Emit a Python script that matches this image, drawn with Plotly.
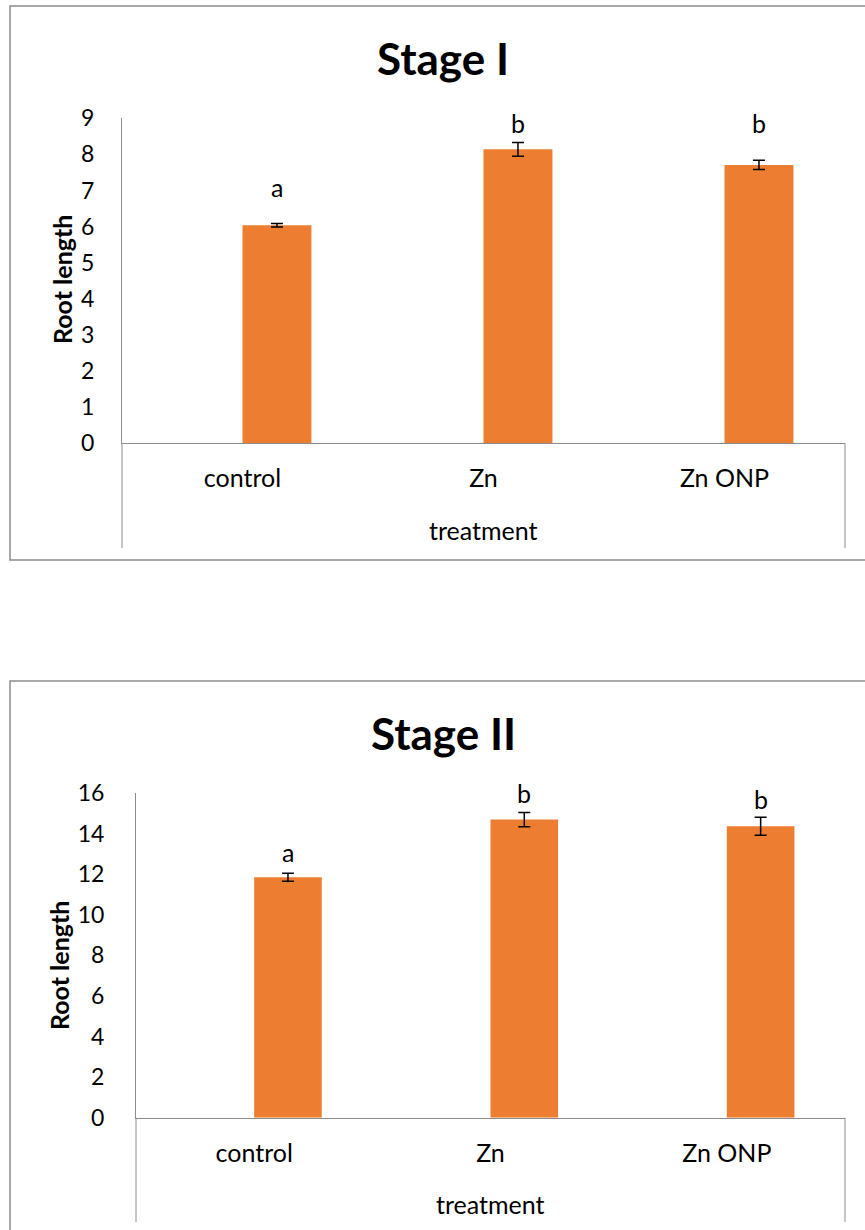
import plotly.graph_objects as go

# Treatments on the category axis
categories = ["control", "Zn", "Zn ONP"]

# Stage I root length (mean, standard error) and significance letters
stage1_mean = [6.04, 8.14, 7.71]
stage1_err = [0.05, 0.19, 0.13]
stage1_letters = ["a", "b", "b"]
stage1_letter_y = [7.11, 8.87, 8.87]
stage1_ticks = [0, 1, 2, 3, 4, 5, 6, 7, 8, 9]

# Stage II root length (mean, standard error) and significance letters
stage2_mean = [11.85, 14.69, 14.36]
stage2_err = [0.20, 0.35, 0.44]
stage2_letters = ["a", "b", "b"]
stage2_letter_y = [13.11, 16.0, 15.71]
stage2_ticks = [0, 2, 4, 6, 8, 10, 12, 14, 16]

W, H = 865, 1230
FONT = "Lato"
ORANGE = "#ED7D31"
GRAY = "#8C8C8C"
TXT = "#000000"
BAR_W = 0.286


def px_x(p):
    return p / W


def px_y(p):
    return 1 - p / H


fig = go.Figure()

panels = [
    dict(mean=stage1_mean, err=stage1_err, letters=stage1_letters, ly=stage1_letter_y,
         ticks=stage1_ticks, top=118.3, zero=443.3, left=122, right=845, bottom=548,
         title="Stage I", title_y=58, ytitle_x=62, ytitle_y=280, xtitle_y=530, frame=(6, 560),
         sfx="", standoff=22),
    dict(mean=stage2_mean, err=stage2_err, letters=stage2_letters, ly=stage2_letter_y,
         ticks=stage2_ticks, top=793, zero=1117.7, left=136, right=845, bottom=1222,
         title="Stage II", title_y=733, ytitle_x=59, ytitle_y=965, xtitle_y=1204, frame=(681, 1260),
         sfx="2", standoff=26),
]

shapes = []
annotations = []

for p in panels:
    xa = "x" + p["sfx"]
    ya = "y" + p["sfx"]
    fig.add_trace(go.Bar(
        x=categories, y=p["mean"], width=BAR_W, offset=0,
        marker=dict(color=ORANGE, line=dict(width=0)),
        error_y=dict(type="data", array=p["err"], color="#000000", thickness=1.5, width=6),
        xaxis=xa, yaxis=ya, showlegend=False,
    ))

    xkey = "xaxis" + p["sfx"]
    ykey = "yaxis" + p["sfx"]
    fig.update_layout(**{
        xkey: dict(
            domain=[px_x(p["left"]), px_x(p["right"])], anchor=ya,
            type="category", range=[-0.5, 2.5],
            showline=True, linecolor=GRAY, linewidth=1,
            showgrid=False, zeroline=False, ticks="",
            tickfont=dict(family=FONT, size=25, color=TXT),
            ticklabelstandoff=13, automargin=False, fixedrange=True,
        ),
        ykey: dict(
            domain=[px_y(p["zero"]), px_y(p["top"])], anchor=xa,
            range=[0, p["ticks"][-1]], tickvals=p["ticks"],
            showline=True, linecolor=GRAY, linewidth=1,
            showgrid=False, zeroline=False, ticks="",
            tickfont=dict(family=FONT, size=23, color=TXT),
            ticklabelstandoff=p["standoff"], automargin=False, fixedrange=True,
        ),
    })

    # chart frame
    shapes.append(dict(type="rect", xref="paper", yref="paper",
                       x0=px_x(10), x1=px_x(880), y0=px_y(p["frame"][1]), y1=px_y(p["frame"][0]),
                       line=dict(color=GRAY, width=1.5), fillcolor="rgba(0,0,0,0)", layer="below"))
    # category band dividers under the axis
    for xd in (0, 1):
        shapes.append(dict(type="line", xref=xa + " domain", yref="paper",
                           x0=xd, x1=xd, y0=px_y(p["zero"]), y1=px_y(p["bottom"]),
                           line=dict(color=GRAY, width=1)))

    annotations.append(dict(text="<b>" + p["title"] + "</b>", xref="paper", yref="paper",
                            x=px_x(443), y=px_y(p["title_y"]), showarrow=False,
                            xanchor="center", yanchor="middle",
                            font=dict(family=FONT, size=44, color=TXT)))
    annotations.append(dict(text="<b>Root length</b>", xref="paper", yref="paper",
                            x=px_x(p["ytitle_x"]), y=px_y(p["ytitle_y"]), showarrow=False,
                            textangle=-90, xanchor="center", yanchor="middle",
                            font=dict(family=FONT, size=25, color=TXT)))
    annotations.append(dict(text="treatment", xref="paper", yref="paper",
                            x=px_x((p["left"] + p["right"]) / 2), y=px_y(p["xtitle_y"]),
                            showarrow=False, xanchor="center", yanchor="middle",
                            font=dict(family=FONT, size=25, color=TXT)))
    # letters sit above the centre of each bar (bars start at the category centre)
    cell_px = (p["right"] - p["left"]) / len(categories)
    for cat, lab, yv in zip(categories, p["letters"], p["ly"]):
        annotations.append(dict(text=lab, xref=xa, yref=ya, x=cat, y=yv,
                                xshift=cell_px * BAR_W / 2, showarrow=False,
                                xanchor="center", yanchor="middle",
                                font=dict(family=FONT, size=25, color=TXT)))

fig.update_layout(
    width=W, height=H,
    margin=dict(l=0, r=0, t=0, b=0),
    paper_bgcolor="white", plot_bgcolor="white",
    template="none",
    shapes=shapes, annotations=annotations,
    showlegend=False,
)

fig.write_html("out.html")
